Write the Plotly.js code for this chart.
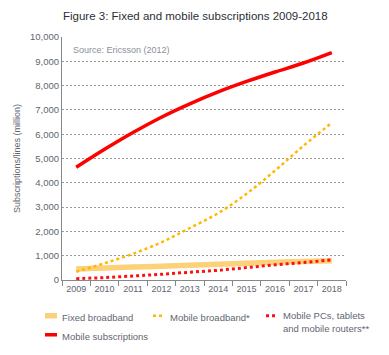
<!DOCTYPE html>
<html>
<head>
<meta charset="utf-8">
<script src="https://cdn.plot.ly/plotly-3.0.1.min.js"></script>
<style>html,body{margin:0;padding:0;background:#fff;}#chart{width:389px;height:355px;}</style>
</head>
<body>
<div id="chart"></div>
<script>
var years = ['2009','2010','2011','2012','2013','2014','2015','2016','2017','2018'];
var fixedBroadband = [450, 490, 530, 570, 610, 650, 690, 730, 760, 790];
var mobileBroadband = [340, 690, 1080, 1550, 2140, 2750, 3550, 4500, 5520, 6470];
var mobilePCs = [55, 100, 165, 235, 320, 400, 510, 625, 720, 830];
var mobileSubs = [4640, 5380, 6070, 6700, 7250, 7740, 8170, 8560, 8930, 9360];
var yTicks = [0, 1000, 2000, 3000, 4000, 5000, 6000, 7000, 8000, 9000, 10000];
var seriesNames = ['Fixed broadband', 'Mobile broadband*', 'Mobile PCs, tablets<br>and mobile routers**', 'Mobile subscriptions'];

var traces = [
  {x: years, y: fixedBroadband, name: seriesNames[0], mode: 'lines', legend: 'legend',
   line: {color: '#FDD07A', width: 5.5, shape: 'spline'}},
  {x: years, y: mobileBroadband, name: seriesNames[1], mode: 'lines', legend: 'legend2',
   line: {color: '#FFB700', width: 2.5, dash: 'dot', shape: 'spline'}},
  {x: years, y: mobilePCs, name: seriesNames[2], mode: 'lines', legend: 'legend3',
   line: {color: '#FF1010', width: 3, dash: 'dot', shape: 'spline'}},
  {x: years, y: mobileSubs, name: seriesNames[3], mode: 'lines', legend: 'legend',
   line: {color: '#FF0000', width: 3.5, shape: 'spline'}}
];

var legendFont = {size: 9.5, color: '#5f6670', family: 'Liberation Sans, Arial, sans-serif'};
var legendY = -0.095;
function legendAt(px) {
  return {orientation: 'v', x: (px - 62)/284, xanchor: 'left', y: legendY, yanchor: 'top',
          itemwidth: 30, tracegroupgap: 0, valign: 'top', traceorder: 'normal',
          font: legendFont, bgcolor: 'rgba(0,0,0,0)', borderwidth: 0};
}

var layout = {
  width: 389, height: 355,
  margin: {l: 62, r: 43, t: 37, b: 75, autoexpand: false},
  paper_bgcolor: '#fff', plot_bgcolor: '#fff',
  font: {family: 'Liberation Sans, Arial, sans-serif', color: '#5f6670', size: 9.5},
  title: {text: 'Figure 3: Fixed and mobile subscriptions 2009-2018',
          x: 63/389, xanchor: 'left', y: 1 - 16/355, yanchor: 'middle',
          font: {size: 11.5, color: '#2a2f36', family: 'Liberation Sans, Arial, sans-serif'}},
  xaxis: {
    type: 'category', range: [-0.5, 9.5], tickson: 'boundaries', tickangle: 0, automargin: false,
    ticks: 'outside', ticklen: 5, tickcolor: '#888', showline: true, linecolor: '#888', linewidth: 1,
    showgrid: false, tickfont: {size: 9, color: '#5f6670'}
  },
  yaxis: {
    range: [0, 10000], tickvals: yTicks, tickformat: ',d', ticks: '', automargin: false,
    showline: true, linecolor: '#888', linewidth: 1,
    showgrid: true, gridcolor: '#999', griddash: '2px,2px', gridwidth: 1, zeroline: false,
    tickfont: {size: 9.5, color: '#5f6670'},
    title: {text: 'Subscriptions/lines (million)', standoff: 7, font: {size: 9, color: '#5f6670'}}
  },
  showlegend: true,
  legend: legendAt(22),
  legend2: legendAt(130),
  legend3: legendAt(243),
  annotations: [
    {text: 'Source: Ericsson (2012)', xref: 'paper', yref: 'paper', x: 9/284, y: (280-50)/243,
     xanchor: 'left', yanchor: 'middle', showarrow: false, font: {size: 9, color: '#8a9099'}}
  ]
};

Plotly.newPlot('chart', traces, layout, {displayModeBar: false, staticPlot: true}).then(function () {
  // shorten the legend swatches so they sit just before the text, as in the reference
  document.querySelectorAll('.legendlines path').forEach(function (p) {
    p.setAttribute('d', 'M23,0h12');
  });
});
</script>
</body>
</html>
